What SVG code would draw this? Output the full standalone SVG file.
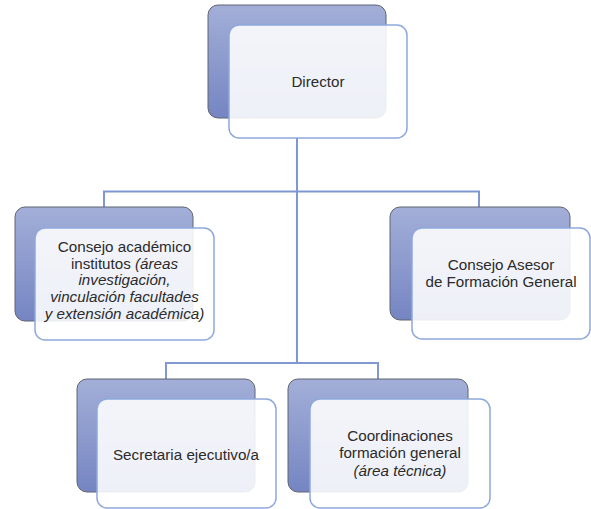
<svg xmlns="http://www.w3.org/2000/svg" width="591" height="509" viewBox="0 0 591 509">
<defs>
<linearGradient id="bg" x1="0" y1="0" x2="0" y2="1">
<stop offset="0" stop-color="#a3afd8"/>
<stop offset="1" stop-color="#7585c2"/>
</linearGradient>
</defs>
<style>
.back{fill:url(#bg);stroke:#5f6470;stroke-width:1}
.front{fill:#ffffff;fill-opacity:0.88;stroke:#8fa8dc;stroke-width:1.5}
.t{font-family:"Liberation Sans",Arial,sans-serif;font-size:15.2px;fill:#2b2b2b;text-anchor:middle}
.i{font-style:italic}
.c{fill:none;stroke:#7f97d3;stroke-width:2}
</style>
<rect width="591" height="509" fill="#ffffff"/>
<g id="connectors">
<path class="c" d="M297 138 V363 M104 207 V191.5 H479 V207 M166 379 V363 H378 V379"/>
</g>
<g id="director">
<rect class="back" x="208" y="5" width="178" height="113" rx="10"/>
<rect class="front" x="229" y="25" width="178" height="113" rx="10"/>
<text class="t" x="318" y="87">Director</text>
</g>
<g id="consejo-academico">
<rect class="back" x="15" y="207" width="178" height="114" rx="10"/>
<rect class="front" x="35" y="228" width="179" height="112" rx="10"/>
<text class="t" x="124.5" y="252">Consejo académico</text>
<text class="t" x="124.5" y="268.5">institutos <tspan class="i">(áreas</tspan></text>
<text class="t i" x="124.5" y="285">investigación,</text>
<text class="t i" x="124.5" y="302">vinculación facultades</text>
<text class="t i" x="124.5" y="319">y extensión académica)</text>
</g>
<g id="consejo-asesor">
<rect class="back" x="390" y="207" width="180" height="113" rx="10"/>
<rect class="front" x="412" y="228" width="178" height="111" rx="10"/>
<text class="t" x="501" y="270">Consejo Asesor</text>
<text class="t" x="501" y="287">de Formación General</text>
</g>
<g id="secretaria">
<rect class="back" x="77" y="379" width="178" height="113" rx="10"/>
<rect class="front" x="97" y="399" width="179" height="109" rx="10"/>
<text class="t" x="186" y="460">Secretaria ejecutivo/a</text>
</g>
<g id="coordinaciones">
<rect class="back" x="288" y="379" width="180" height="113" rx="10"/>
<rect class="front" x="310" y="399" width="180" height="109" rx="10"/>
<text class="t" x="400" y="441">Coordinaciones</text>
<text class="t" x="400" y="458">formación general</text>
<text class="t i" x="400" y="476">(área técnica)</text>
</g>
</svg>
